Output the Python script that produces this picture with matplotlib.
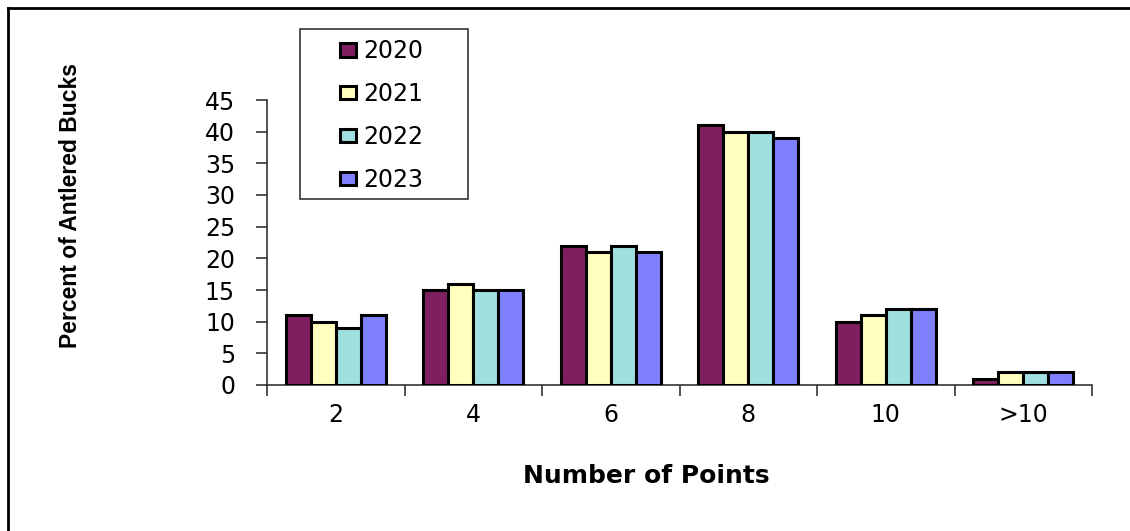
import matplotlib.pyplot as plt
import numpy as np
from matplotlib.patches import Rectangle
from matplotlib.lines import Line2D

# data
categories = ["2", "4", "6", "8", "10", ">10"]
years = ["2020", "2021", "2022", "2023"]
pct_2020 = [11, 15, 22, 41, 10, 1]
pct_2021 = [10, 16, 21, 40, 11, 2]
pct_2022 = [9, 15, 22, 40, 12, 2]
pct_2023 = [11, 15, 21, 39, 12, 2]
colors = ["#7F1F5F", "#FFFFC0", "#A0E0E0", "#8080FF"]

W, H = 1130, 531
plt.rcParams['font.family'] = ['DejaVu Sans']

fig = plt.figure(figsize=(W / 100, H / 100), dpi=100)
ax = fig.add_axes([267 / W, 1 - 385 / H, 825 / W, 285 / H])

x = np.arange(len(categories))
bw = 0.182
series = [pct_2020, pct_2021, pct_2022, pct_2023]
for i, vals in enumerate(series):
    ax.bar(x + (i - 1.5) * bw, vals, bw, color=colors[i], edgecolor="black",
           linewidth=2.2, label=years[i], zorder=3)

ax.set_xlim(-0.5, len(categories) - 0.5)
ax.set_ylim(0, 45)
ax.set_yticks(range(0, 50, 5))
ax.tick_params(axis="y", labelsize=17, length=8, width=1.2, pad=15, colors="#333333",
               labelcolor="black")
ax.set_xticks(x)
ax.set_xticklabels(categories)
ax.set_xticks(np.arange(-0.5, len(categories)), minor=True)
ax.tick_params(axis="x", which="major", length=0, labelsize=17, pad=13)
ax.tick_params(axis="x", which="minor", length=8, width=1.2, colors="#333333")
for s in ["top", "right"]:
    ax.spines[s].set_visible(False)
for s in ["left", "bottom"]:
    ax.spines[s].set_color("#333333")
    ax.spines[s].set_linewidth(1.2)

fig.text(646 / W, 1 - 476 / H, "Number of Points", ha="center", va="center",
         fontsize=18, fontweight="bold")
fig.text(71 / W, 1 - 205 / H, "Percent of Antlered Bucks", rotation=90,
         ha="center", va="center", fontsize=16.5, fontweight="bold",
         family=["Liberation Sans", "DejaVu Sans"])

# legend box
fig.add_artist(Rectangle((300 / W, 1 - 199 / H), 168 / W, 170 / H,
                         transform=fig.transFigure, fill=False,
                         edgecolor="#333333", linewidth=1.2))
fig.legend(loc="upper left", bbox_to_anchor=(319 / W, 1 - 18 / H), frameon=False,
           fontsize=17, handlelength=0.68, handleheight=0.5, handletextpad=0.3,
           labelspacing=0.8)

# outer frame (top and left only)
fig.add_artist(Line2D([8 / W, 8 / W], [0, 1 - 8 / H], transform=fig.transFigure,
                      color="black", linewidth=2))
fig.add_artist(Line2D([8 / W, 1], [1 - 8 / H, 1 - 8 / H], transform=fig.transFigure,
                      color="black", linewidth=2))

fig.savefig("out.png", dpi=100)
